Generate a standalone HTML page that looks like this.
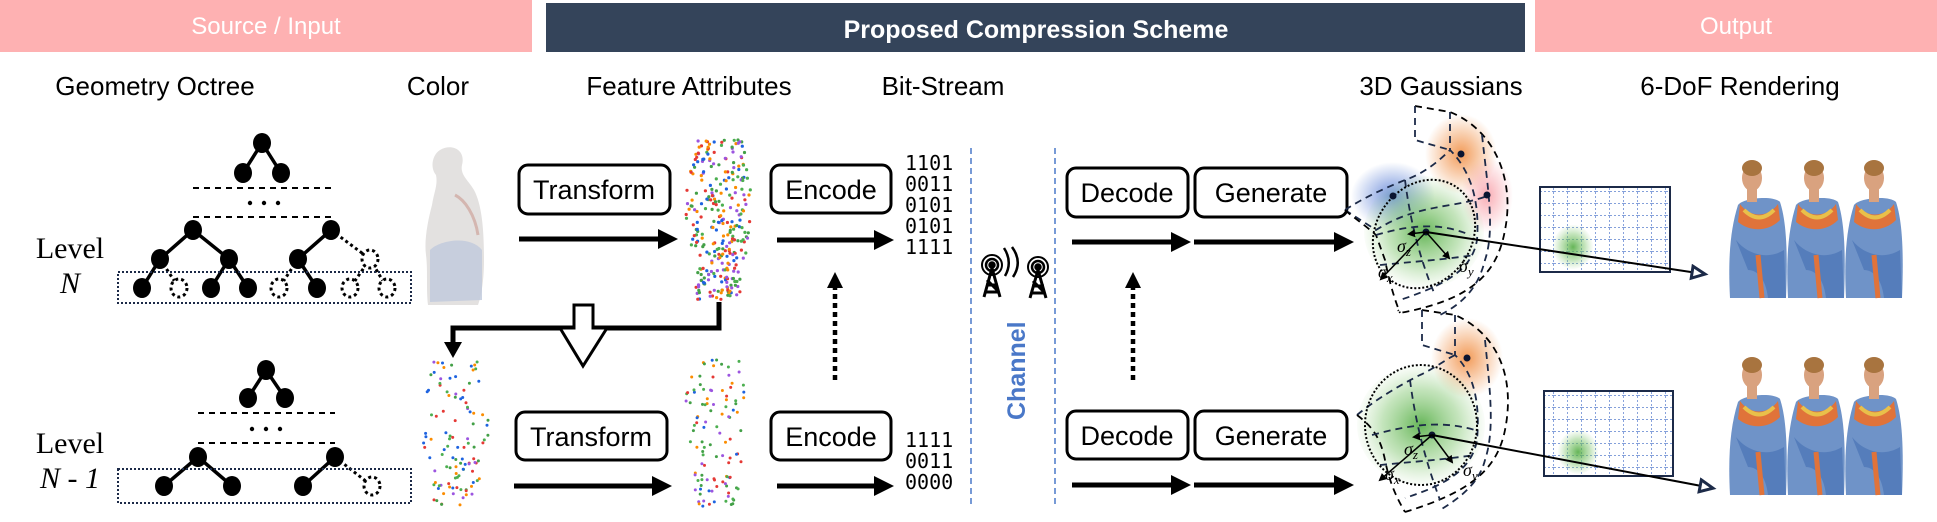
<!DOCTYPE html>
<html><head><meta charset="utf-8"><style>
html,body{margin:0;padding:0;background:#fff;}
svg{display:block;}
text{font-family:"Liberation Sans",sans-serif;}
text.mono{font-family:"DejaVu Sans Mono","Liberation Mono",monospace;}
text.serif{font-family:"Liberation Serif",serif;}
</style></head><body>
<svg id="s" width="1937" height="522" viewBox="0 0 1937 522" xmlns="http://www.w3.org/2000/svg">
<defs>
<marker id="ah" markerWidth="4" markerHeight="4" refX="2" refY="2" orient="auto" markerUnits="strokeWidth"><path d="M0,0 L4,2 L0,4 z" fill="#000"/></marker>
<marker id="ahs" markerWidth="8" markerHeight="8" refX="6" refY="4" orient="auto" markerUnits="userSpaceOnUse"><path d="M0,0 L8,4 L0,8 z" fill="#000"/></marker>
<marker id="tri" markerWidth="20" markerHeight="20" refX="14" refY="8" orient="auto" markerUnits="userSpaceOnUse"><path d="M2,2 L15,8 L2,14 z" fill="#fff" stroke="#1c2a48" stroke-width="3"/></marker>
<radialGradient id="gB"><stop offset="0" stop-color="#5a7fd6" stop-opacity=".85"/><stop offset="1" stop-color="#5a7fd6" stop-opacity="0"/></radialGradient>
<radialGradient id="gO"><stop offset="0" stop-color="#f08a3c" stop-opacity=".85"/><stop offset="1" stop-color="#f08a3c" stop-opacity="0"/></radialGradient>
<radialGradient id="gP"><stop offset="0" stop-color="#f78a95" stop-opacity=".7"/><stop offset="1" stop-color="#f78a95" stop-opacity="0"/></radialGradient>
<radialGradient id="gG"><stop offset="0" stop-color="#4aa83a" stop-opacity=".85"/><stop offset=".6" stop-color="#7cc46a" stop-opacity=".45"/><stop offset="1" stop-color="#9fd48f" stop-opacity="0.05"/></radialGradient>
<pattern id="grid" width="14" height="12" patternUnits="userSpaceOnUse"><path d="M14,0 V12 M0,12 H14" stroke="#3b66c4" stroke-width="1.2" stroke-dasharray="2,2" fill="none"/></pattern>
</defs>

<rect x="0" y="0" width="532" height="52" fill="#feb1b2"/>
<rect x="546" y="3" width="979" height="49" fill="#34445a"/>
<rect x="1535" y="0" width="402" height="52" fill="#feb1b2"/>
<text x="266" y="34" font-size="24" fill="#fff" text-anchor="middle">Source / Input</text>
<text x="1036" y="38" font-size="25" font-weight="bold" fill="#fff" text-anchor="middle">Proposed Compression Scheme</text>
<text x="1736" y="34" font-size="24" fill="#fff" text-anchor="middle">Output</text>

<g font-size="26" fill="#000" text-anchor="middle">
<text x="155" y="95">Geometry Octree</text>
<text x="438" y="95">Color</text>
<text x="689" y="95">Feature Attributes</text>
<text x="943" y="95">Bit-Stream</text>
<text x="1441" y="95">3D Gaussians</text>
<text x="1740" y="95">6-DoF Rendering</text>
</g>

<g font-size="30" text-anchor="middle">
<text class="serif" x="70" y="258">Level</text>
<text class="serif" x="70" y="293" font-style="italic">N</text>
<text class="serif" x="70" y="453">Level</text>
<text class="serif" x="70" y="488" font-style="italic">N - 1</text>
</g>

<g stroke="#000" stroke-width="3.5" fill="none">
<path d="M262,143 L243,173 M262,143 L281,173"/>
<path d="M193,230 L160,259 M193,230 L229,259 M331,230 L298,259"/>
<path d="M160,259 L142,288 M229,259 L211,288 M229,259 L248,288 M298,259 L317,288"/>
</g>
<g stroke="#000" stroke-width="3" fill="none" stroke-dasharray="3,3">
<path d="M331,230 L370,259 M160,259 L179,288 M298,259 L279,288 M370,259 L350,288 M370,259 L387,288"/>
</g>
<g stroke="#000" stroke-width="2" stroke-dasharray="6,5"><path d="M193,188 H331 M193,217 H331"/></g>
<g fill="#000"><circle cx="250" cy="203" r="2.2"/><circle cx="264" cy="203" r="2.2"/><circle cx="278" cy="203" r="2.2"/></g>
<g fill="#000">
<ellipse cx="262" cy="143" rx="9" ry="10"/><ellipse cx="243" cy="173" rx="9" ry="10"/><ellipse cx="281" cy="173" rx="9" ry="10"/>
<ellipse cx="193" cy="230" rx="9" ry="10"/><ellipse cx="331" cy="230" rx="9" ry="10"/>
<ellipse cx="160" cy="259" rx="9" ry="10"/><ellipse cx="229" cy="259" rx="9" ry="10"/><ellipse cx="298" cy="259" rx="9" ry="10"/>
<ellipse cx="142" cy="288" rx="9" ry="10"/><ellipse cx="211" cy="288" rx="9" ry="10"/><ellipse cx="248" cy="288" rx="9" ry="10"/><ellipse cx="317" cy="288" rx="9" ry="10"/>
</g>
<g fill="#fff" stroke="#000" stroke-width="3" stroke-dasharray="3,3">
<ellipse cx="370" cy="259" rx="8" ry="9"/><ellipse cx="179" cy="288" rx="8" ry="9"/><ellipse cx="279" cy="288" rx="8" ry="9"/><ellipse cx="350" cy="288" rx="8" ry="9"/><ellipse cx="387" cy="288" rx="8" ry="9"/>
</g>
<rect x="118" y="272" width="293" height="31" fill="none" stroke="#1c2a48" stroke-width="2" stroke-dasharray="2,2"/>

<g stroke="#000" stroke-width="3.5" fill="none">
<path d="M266,370 L248,398 M266,370 L285,398 M198,457 L164,486 M198,457 L232,486 M335,457 L303,486"/>
</g>
<path d="M335,457 L372,486" stroke="#000" stroke-width="3" stroke-dasharray="3,3"/>
<g stroke="#000" stroke-width="2" stroke-dasharray="6,5"><path d="M198,413 H335 M198,443 H335"/></g>
<g fill="#000"><circle cx="252" cy="429" r="2.2"/><circle cx="266" cy="429" r="2.2"/><circle cx="280" cy="429" r="2.2"/></g>
<g fill="#000">
<ellipse cx="266" cy="370" rx="9" ry="10"/><ellipse cx="248" cy="398" rx="9" ry="10"/><ellipse cx="285" cy="398" rx="9" ry="10"/>
<ellipse cx="198" cy="457" rx="9" ry="10"/><ellipse cx="335" cy="457" rx="9" ry="10"/>
<ellipse cx="164" cy="486" rx="9" ry="10"/><ellipse cx="232" cy="486" rx="9" ry="10"/><ellipse cx="303" cy="486" rx="9" ry="10"/>
</g>
<ellipse cx="372" cy="486" rx="8" ry="9" fill="#fff" stroke="#000" stroke-width="3" stroke-dasharray="3,3"/>
<rect x="118" y="469" width="293" height="34" fill="none" stroke="#1c2a48" stroke-width="2" stroke-dasharray="2,2"/>

<g>
<path d="M440,150 C452,143 466,150 462,165 C460,175 468,180 474,190 C482,205 484,230 484,260 C484,285 480,300 478,305 L428,305 C426,290 428,270 426,255 C424,240 428,220 432,205 C434,192 438,185 436,175 C430,168 432,155 440,150 Z" fill="#e3e1e0"/>
<path d="M430,250 C440,240 470,235 482,250 L482,300 L430,302 Z" fill="#bfc9dc" opacity=".8"/>
<path d="M455,195 C465,200 475,215 478,235" stroke="#c99a90" stroke-width="3" fill="none" opacity=".6"/>
</g>

<g id="sc1"></g><g id="sc2"></g><g id="sc3"></g>

<g fill="#fff" stroke="#000" stroke-width="3">
<rect x="519" y="165" width="151" height="49" rx="9"/>
<rect x="516" y="412" width="151" height="48" rx="9"/>
<rect x="771" y="165" width="120" height="48" rx="9"/>
<rect x="771" y="412" width="120" height="48" rx="9"/>
<rect x="1067" y="168" width="121" height="49" rx="9"/>
<rect x="1195" y="168" width="152" height="49" rx="9"/>
<rect x="1067" y="411" width="121" height="48" rx="9"/>
<rect x="1195" y="411" width="152" height="48" rx="9"/>
</g>
<g font-size="27" text-anchor="middle">
<text x="594" y="199">Transform</text>
<text x="591" y="446">Transform</text>
<text x="831" y="199">Encode</text>
<text x="831" y="446">Encode</text>
<text x="1127" y="202">Decode</text>
<text x="1271" y="202">Generate</text>
<text x="1127" y="445">Decode</text>
<text x="1271" y="445">Generate</text>
</g>

<g stroke="#000" stroke-width="5" fill="none" marker-end="url(#ah)">
<path d="M519,239 H668"/><path d="M514,486 H662"/>
<path d="M777,240 H884"/><path d="M777,486 H884"/>
<path d="M1072,242 H1181"/><path d="M1194,242 H1344"/>
<path d="M1072,485 H1181"/><path d="M1194,485 H1344"/>
</g>

<g font-size="20">
<text class="mono" x="905" y="170">1101</text><text class="mono" x="905" y="191">0011</text><text class="mono" x="905" y="212">0101</text><text class="mono" x="905" y="233">0101</text><text class="mono" x="905" y="254">1111</text>
<text class="mono" x="905" y="447">1111</text><text class="mono" x="905" y="468">0011</text><text class="mono" x="905" y="489">0000</text>
</g>

<g stroke="#000" stroke-width="4.5" stroke-dasharray="5,4"><path d="M835,380 V285"/><path d="M1133,380 V285"/></g>
<g fill="#000"><path d="M827,288 L835,272 L843,288 Z"/><path d="M1125,288 L1133,272 L1141,288 Z"/></g>

<path d="M719,302 V328 H453 V345" stroke="#000" stroke-width="5" fill="none"/>
<path d="M444,342 L453,358 L462,342 Z" fill="#000"/>
<path d="M574,305 H593 V328 H607 L583,366 L560,328 H574 Z" fill="#fff" stroke="#000" stroke-width="3" stroke-linejoin="miter"/>

<g stroke="#4a78c8" stroke-width="1.5" stroke-dasharray="6,4"><path d="M971,148 V505"/><path d="M1055,148 V505"/></g>
<text transform="translate(1025,420) rotate(-90)" font-size="25" font-weight="bold" fill="#4a78c8">Channel</text>
<g stroke="#000" stroke-width="2.5" fill="none">
<g transform="translate(992,0)">
<circle cx="0" cy="265" r="10" stroke-width="2"/><circle cx="0" cy="265" r="6"/><circle cx="0" cy="265" r="2.5" fill="#000"/>
<path d="M0,268 L-8,297 M0,268 L8,297 M-6,285 H6 M-5,280 L5,290 M-7,292 H7" stroke-width="3"/>
</g>
<g transform="translate(1038,0)">
<circle cx="0" cy="267" r="10" stroke-width="2"/><circle cx="0" cy="267" r="6"/><circle cx="0" cy="267" r="2.5" fill="#000"/>
<path d="M0,270 L-8,298 M0,270 L8,298 M-6,286 H6 M-5,281 L5,291 M-7,293 H7" stroke-width="3"/>
</g>
<path d="M1004,248 Q1013,262 1005,276"/><path d="M1012,247 Q1023,262 1013,277"/>
</g>

<g id="gtop">
<ellipse cx="1393" cy="196" rx="42" ry="34" fill="url(#gB)"/>
<ellipse cx="1461" cy="154" rx="36" ry="40" fill="url(#gO)"/>
<ellipse cx="1487" cy="195" rx="26" ry="38" fill="url(#gP)"/>
<ellipse cx="1424" cy="232" rx="60" ry="56" fill="url(#gG)"/>
<g fill="none" stroke-dasharray="7,5" stroke-width="1.8">
<path d="M1415,106 L1450,112 C1495,130 1515,180 1505,230 C1497,275 1470,300 1400,313 L1398,310" stroke="#000"/>
<path d="M1415,106 L1415,140 L1450,150" stroke="#1c2a48"/>
<path d="M1450,112 L1450,150 C1470,170 1480,200 1477,240 C1472,270 1445,285 1400,300" stroke="#1c2a48"/>
<path d="M1482,135 C1488,190 1495,230 1485,260 C1480,280 1470,300 1440,315" stroke="#1c2a48"/>
<path d="M1345,210 C1360,200 1380,190 1405,180 C1420,175 1435,165 1450,150" stroke="#1c2a48"/>
<path d="M1345,210 L1376,230 C1400,215 1420,210 1450,205 C1470,202 1482,198 1490,195" stroke="#1c2a48"/>
<path d="M1345,210 C1350,215 1365,225 1376,235 L1385,260 C1390,285 1395,300 1400,313" stroke="#000"/>
<path d="M1376,235 C1410,225 1440,222 1470,235" stroke="#1c2a48"/>
<path d="M1380,265 C1410,262 1440,260 1475,255" stroke="#1c2a48"/>
<path d="M1405,180 C1410,220 1420,260 1435,295" stroke="#1c2a48"/>
</g>
<ellipse cx="1424" cy="234" rx="48" ry="57" transform="rotate(35 1424 234)" fill="none" stroke="#000" stroke-width="2" stroke-dasharray="2,2"/>
<g fill="#0a1430"><circle cx="1393" cy="196" r="3.5"/><circle cx="1461" cy="154" r="3.5"/><circle cx="1487" cy="195" r="3.5"/><circle cx="1426" cy="232" r="3.5"/></g>
<g stroke="#000" stroke-width="1.5" fill="none" marker-end="url(#ahs)">
<path d="M1426,232 L1409,234"/><path d="M1426,232 L1449,258"/><path d="M1426,232 L1381,279"/>
</g>
<g font-style="italic" font-size="18">
<text class="serif" x="1397" y="252">σ<tspan font-size="13" dy="4">z</tspan></text>
<text class="serif" x="1459" y="272">σ<tspan font-size="13" dy="4">y</tspan></text>
<text class="serif" x="1378" y="278">σ<tspan font-size="13" dy="4">x</tspan></text>
</g>
<rect x="1540" y="187" width="130" height="85" fill="#fff" stroke="#1c2a48" stroke-width="2"/>
<rect x="1541" y="188" width="128" height="83" fill="url(#grid)"/>
<ellipse cx="1573" cy="247" rx="20" ry="22" fill="url(#gG)"/>
<path d="M1426,232 L1704,274" stroke="#000" stroke-width="2" fill="none" marker-end="url(#tri)"/>
</g>

<g>
<ellipse cx="1467" cy="358" rx="36" ry="40" fill="url(#gO)"/>
<ellipse cx="1421" cy="425" rx="64" ry="60" fill="url(#gG)"/>
<g fill="none" stroke-dasharray="7,5" stroke-width="1.8">
<path d="M1422,310 L1455,315 C1500,335 1515,380 1505,430 C1497,470 1470,492 1405,512" stroke="#000"/>
<path d="M1422,310 L1422,345 L1455,355" stroke="#1c2a48"/>
<path d="M1455,315 L1455,355 C1475,375 1480,405 1477,440 C1472,470 1445,485 1405,498" stroke="#1c2a48"/>
<path d="M1485,340 C1490,390 1495,430 1485,460 C1480,480 1465,495 1440,510" stroke="#1c2a48"/>
<path d="M1357,415 C1375,400 1400,385 1420,375 C1435,368 1445,360 1455,355" stroke="#1c2a48"/>
<path d="M1357,415 C1370,425 1380,435 1385,460 C1390,485 1398,500 1405,512" stroke="#000"/>
<path d="M1372,435 C1410,425 1440,420 1475,430" stroke="#1c2a48"/>
<path d="M1380,465 C1410,462 1440,460 1475,455" stroke="#1c2a48"/>
<path d="M1410,380 C1415,420 1425,460 1440,500" stroke="#1c2a48"/>
</g>
<ellipse cx="1421" cy="425" rx="56" ry="60" fill="none" stroke="#000" stroke-width="2" stroke-dasharray="2,2"/>
<g fill="#0a1430"><circle cx="1467" cy="358" r="3.5"/><circle cx="1432" cy="435" r="3.5"/></g>
<g stroke="#000" stroke-width="1.5" fill="none" marker-end="url(#ahs)">
<path d="M1432,435 L1414,437"/><path d="M1432,435 L1452,462"/><path d="M1432,435 L1380,480"/>
</g>
<g font-style="italic" font-size="18">
<text class="serif" x="1404" y="455">σ<tspan font-size="13" dy="4">z</tspan></text>
<text class="serif" x="1463" y="476">σ<tspan font-size="13" dy="4">y</tspan></text>
<text class="serif" x="1385" y="480">σ<tspan font-size="13" dy="4">x</tspan></text>
</g>
<rect x="1544" y="391" width="129" height="85" fill="#fff" stroke="#1c2a48" stroke-width="2"/>
<rect x="1545" y="392" width="127" height="83" fill="url(#grid)"/>
<ellipse cx="1578" cy="452" rx="20" ry="22" fill="url(#gG)"/>
<path d="M1432,435 L1712,488" stroke="#000" stroke-width="2" fill="none" marker-end="url(#tri)"/>
</g>

<g id="people"></g>
</svg>
<script>
(function(){
var ns="http://www.w3.org/2000/svg";
var seed=7;function r(){seed=(seed*16807)%2147483647;return seed/2147483647;}
var cols=["#e53935","#43a047","#1e63e0","#fb8c00","#9c55e0","#4caf50"];
function scatter(id,x0,y0,w,h,n,sz){
 var g=document.getElementById(id);
 for(var i=0;i<n;i++){
  var t=r();var y=y0+t*h;
  var half=w/2*(0.55+0.45*Math.sin(Math.min(1,t*1.2)*Math.PI*0.8+0.3));
  var cx=x0+w/2+(r()*2-1)*half;
  var c=document.createElementNS(ns,"circle");
  c.setAttribute("cx",cx.toFixed(1));c.setAttribute("cy",y.toFixed(1));
  c.setAttribute("r",sz);c.setAttribute("fill",cols[Math.floor(r()*cols.length)]);
  g.appendChild(c);
 }
}
scatter("sc1",686,140,66,160,300,1.6);
scatter("sc2",422,360,67,147,110,1.5);
scatter("sc3",684,360,66,147,110,1.5);
var pg=document.getElementById("people");
function person(x,y,h,turn){
 var s=h/138;
 var g=document.createElementNS(ns,"g");
 g.setAttribute("transform","translate("+x+","+y+") scale("+s+")");
 g.innerHTML='<path d="M10,45 C15,38 45,35 52,42 C58,60 60,90 58,138 L2,138 C0,100 2,70 10,45Z" fill="#6f93c8"/>'+
 '<path d="M12,44 C22,58 40,58 50,44 L52,60 C40,72 22,72 10,62Z" fill="#e0733a"/>'+
 '<path d="M16,50 C26,60 36,60 46,50" stroke="#e9c04a" stroke-width="4" fill="none"/>'+
 '<path d="M8,80 C20,95 40,100 56,90 L58,138 L40,138 C38,120 30,110 20,110Z" fill="#4f78b8" opacity=".8"/>'+
 '<path d="M30,95 L34,138" stroke="#e0733a" stroke-width="5"/>'+
 '<ellipse cx="'+(28+turn)+'" cy="18" rx="10" ry="13" fill="#d9a27f"/>'+
 '<ellipse cx="'+(28+turn)+'" cy="8" rx="10" ry="8" fill="#a8743f"/>'+
 '<rect x="'+(23+turn)+'" y="28" width="10" height="14" fill="#d9a27f"/>';
 pg.appendChild(g);
}
[[1728,160],[1728,357]].forEach(function(p){
 person(p[0],p[1],138,-4);person(p[0]+58,p[1],138,0);person(p[0]+116,p[1],138,2);
});
})();
</script>
</body></html>
